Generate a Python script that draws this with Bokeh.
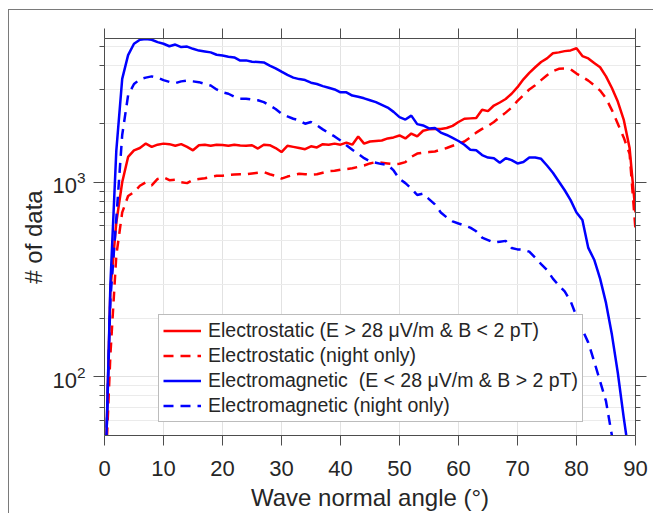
from bokeh.plotting import figure
from bokeh.models import (Range1d, LinearAxis, LogAxis, FixedTicker, Legend,
                          LegendItem)
from bokeh.embed import file_html
from bokeh.resources import INLINE

angles = [0.3, 1, 2, 3, 4, 5, 6, 7, 8, 9, 10,
          11, 12, 13, 14, 15, 16, 17, 18, 19, 20,
          21, 22, 23, 24, 25, 26, 27, 28, 29, 30,
          31, 32, 33, 34, 35, 36, 37, 38, 39, 40,
          41, 42, 43, 44, 45, 46, 47, 48, 49, 50,
          51, 52, 53, 54, 55, 56, 57, 58, 59, 60,
          61, 62, 63, 64, 65, 66, 67, 68, 69, 70,
          71, 72, 73, 74, 75, 76, 77, 78, 79, 80,
          81, 82, 83, 84, 85, 86, 87, 88, 89, 90]

es_all = [45, 280, 620, 1000, 1350, 1460, 1500, 1580, 1520, 1560, 1580,
          1570, 1540, 1570, 1520, 1460, 1550, 1560, 1540, 1560, 1555,
          1540, 1560, 1545, 1540, 1550, 1490, 1560, 1550, 1500, 1430,
          1540, 1520, 1500, 1480, 1530, 1510, 1570, 1560, 1580, 1560,
          1600, 1560, 1720, 1580, 1620, 1630, 1640, 1680, 1700, 1740,
          1680, 1780, 1720, 1840, 1870, 1880, 1880, 1900, 1950, 2040,
          2120, 2130, 2140, 2360, 2320, 2480, 2570, 2680, 2850, 3080,
          3380, 3650, 3900, 4150, 4330, 4600, 4650, 4720, 4760, 4880,
          4450, 4330, 4100, 3900, 3500, 3050, 2600, 2100, 1500, 700]

es_night = [40, 130, 420, 700, 850, 890, 960, 1000, 965, 1040, 1060,
            1025, 1030, 1000, 990, 1030, 1040, 1050, 1065, 1080, 1080,
            1090, 1095, 1100, 1100, 1110, 1120, 1130, 1100, 1080, 1045,
            1070, 1090, 1105, 1100, 1095, 1100, 1120, 1140, 1145, 1160,
            1170, 1180, 1200, 1220, 1250, 1270, 1260, 1250, 1240, 1245,
            1270, 1350, 1405, 1420, 1430, 1440, 1470, 1500, 1540, 1580,
            1620, 1700, 1800, 1880, 1950, 2040, 2160, 2280, 2420, 2620,
            2800, 3000, 3150, 3350, 3550, 3720, 3830, 3840, 3810, 3620,
            3480, 3330, 3150, 2960, 2700, 2350, 2000, 1700, 1400, 570]

em_all = [45, 300, 1450, 3400, 4500, 5150, 5400, 5450, 5400, 5250, 5150,
          5000, 5100, 4950, 4980, 4850, 4750, 4700, 4650, 4520, 4480,
          4420, 4380, 4220, 4230, 4160, 4150, 4130, 3980, 3850, 3700,
          3560, 3450, 3390, 3350, 3250, 3200, 3120, 3060, 3000, 2900,
          2900, 2790, 2750, 2700, 2640, 2580, 2500, 2420, 2300, 2160,
          2100, 2200, 1990, 1960, 1890, 1900, 1800, 1750, 1690, 1630,
          1560, 1470, 1460, 1380, 1340, 1330, 1260, 1330, 1300, 1250,
          1270, 1340, 1340, 1320, 1220, 1120, 1010, 910, 810, 700,
          640, 460, 400, 320, 240, 165, 105, 62, 38, 22]

em_night = [45, 250, 650, 1750, 2800, 3200, 3380, 3450, 3500, 3450, 3350,
            3280, 3230, 3300, 3330, 3300, 3270, 3200, 3140, 3000, 2900,
            2850, 2750, 2690, 2690, 2660, 2640, 2580, 2480, 2380, 2250,
            2180, 2120, 2080, 2000, 2040, 1960, 1870, 1790, 1720, 1640,
            1550, 1470, 1400, 1330, 1280, 1260, 1240, 1230, 1150, 1040,
            990, 930, 860, 875, 820, 770, 700, 660, 630, 614,
            600, 585, 560, 520, 505, 490, 495, 500, 460, 452,
            450, 440, 410, 380, 354, 320, 295, 275, 245, 205,
            175, 150, 120, 95, 75, 50, 35, 25, 18, 12]

x_ticks = [0, 10, 20, 30, 40, 50, 60, 70, 80, 90]
y_major = [100, 1000]
y_minor = [60, 70, 80, 90, 200, 300, 400, 500, 600, 700, 800, 900,
           2000, 3000, 4000, 5000]
labels = ["Electrostatic (E > 28 \u03bcV/m & B < 2 pT)",
          "Electrostatic (night only)",
          "Electromagnetic  (E < 28 \u03bcV/m & B > 2 pT)",
          "Electromagnetic (night only)"]

FONT = "Liberation Sans"
AX = "#4d4d4d"
TXT = "#262626"
FRAME = "#7a7a7a"

p = figure(width=653, height=513, x_range=Range1d(0, 90),
           y_range=Range1d(50, 5480), y_axis_type="log",
           output_backend="svg", toolbar_location=None,
           min_border_left=104, min_border_right=18,
           min_border_top=38, min_border_bottom=77)
p.outline_line_color = None
p.background_fill_color = "white"
p.border_fill_color = None
p.styles = {
    "background": (f"linear-gradient({FRAME},{FRAME}) 8px 9px / 100% 1px no-repeat, "
                   f"linear-gradient({FRAME},{FRAME}) 8px 9px / 1px 100% no-repeat, "
                   "white"),
}

xt = FixedTicker(ticks=x_ticks)
yt = FixedTicker(ticks=y_major, minor_ticks=y_minor)

# bottom axis
xa = p.xaxis[0]
xa.ticker = xt
xa.axis_label = "Wave normal angle (\u00b0)"
xa.axis_label_text_font = FONT
xa.axis_label_text_font_size = "24px"
xa.axis_label_text_font_style = "normal"
xa.axis_label_text_color = TXT
xa.axis_label_standoff = 5
xa.major_label_text_font = FONT
xa.major_label_text_font_size = "22px"
xa.major_label_text_color = TXT
xa.major_label_standoff = 15
xa.major_tick_out = 10
xa.major_tick_in = 0
xa.minor_tick_line_color = None
xa.axis_line_color = AX
xa.major_tick_line_color = AX

# left axis
ya = p.yaxis[0]
ya.ticker = yt
ya.axis_label = "# of data"
ya.axis_label_text_font = FONT
ya.axis_label_text_font_size = "24px"
ya.axis_label_text_font_style = "normal"
ya.axis_label_text_color = TXT
ya.axis_label_standoff = 2
ya.major_label_text_font = FONT
ya.major_label_text_font_size = "22px"
ya.major_label_text_color = TXT
ya.major_label_standoff = 8
ya.major_tick_out = 11
ya.major_tick_in = 0
ya.minor_tick_out = 5
ya.minor_tick_in = 0
ya.axis_line_color = AX
ya.major_tick_line_color = AX
ya.minor_tick_line_color = AX

# top axis (ticks only)
ta = LinearAxis(ticker=xt, major_label_overrides={t: "" for t in x_ticks},
                major_tick_out=10, major_tick_in=0, major_label_standoff=0,
                minor_tick_line_color=None, axis_line_color=AX,
                major_tick_line_color=AX)
p.add_layout(ta, "above")

# right axis (ticks only)
ra = LogAxis(ticker=yt, major_label_overrides={100: "", 1000: ""},
             major_tick_out=11, major_tick_in=0, minor_tick_out=5,
             minor_tick_in=0, major_label_standoff=0, axis_line_color=AX,
             major_tick_line_color=AX, minor_tick_line_color=AX)
p.add_layout(ra, "right")

# grids
p.xgrid.ticker = xt
p.ygrid.ticker = yt
p.xgrid.grid_line_color = "#e2e2e2"
p.ygrid.grid_line_color = "#e2e2e2"
p.ygrid.minor_grid_line_color = "#ebebeb"

r1 = p.line(angles, es_all, line_color="#ff0000", line_width=2.5)
r2 = p.line(angles, es_night, line_color="#ff0000", line_width=2.5,
            line_dash="10 7")
r3 = p.line(angles, em_all, line_color="#0000ff", line_width=2.5)
r4 = p.line(angles, em_night, line_color="#0000ff", line_width=2.5,
            line_dash="10 7")

legend = Legend(items=[LegendItem(label=labels[0], renderers=[r1]),
                       LegendItem(label=labels[1], renderers=[r2]),
                       LegendItem(label=labels[2], renderers=[r3]),
                       LegendItem(label=labels[3], renderers=[r4])],
                location=(54, 13), padding=4, spacing=2, margin=0,
                glyph_width=38, glyph_height=21, label_height=21,
                label_standoff=7, label_text_font=FONT,
                label_text_font_size="19.5px", label_text_color=TXT,
                border_line_color=FRAME, border_line_width=1,
                background_fill_color="white", background_fill_alpha=1)
p.add_layout(legend)

open("out.html", "w").write(file_html(p, INLINE))
